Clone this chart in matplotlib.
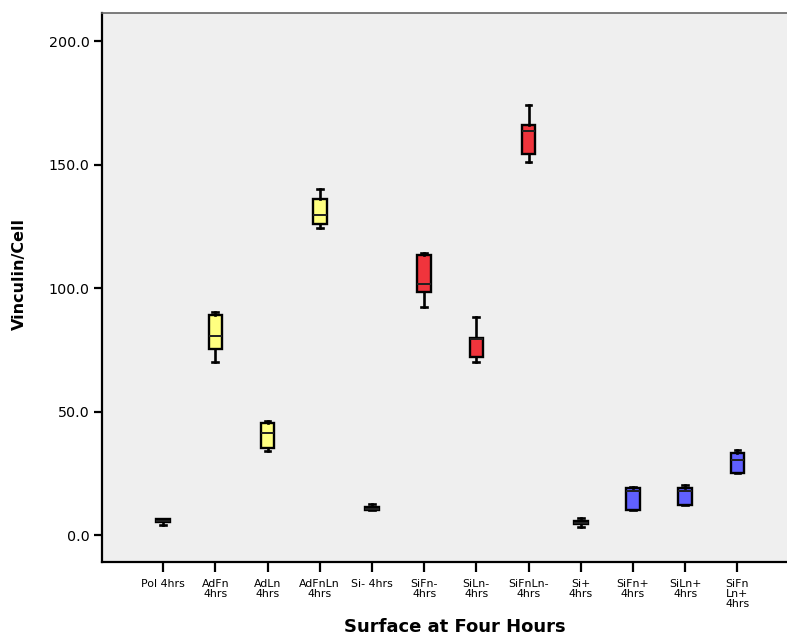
import matplotlib
matplotlib.use("Agg")
import matplotlib.pyplot as plt

plt.rcParams['font.family'] = ['DejaVu Sans']

labels = ["Pol 4hrs", "AdFn\n4hrs", "AdLn\n4hrs", "AdFnLn\n4hrs", "Si- 4hrs", "SiFn-\n4hrs",
          "SiLn-\n4hrs", "SiFnLn-\n4hrs", "Si+\n4hrs", "SiFn+\n4hrs", "SiLn+\n4hrs", "SiFn\nLn+\n4hrs"]

whisker_low = [4.0, 70.0, 34.0, 124.3, 10.0, 92.2, 70.0, 151.3, 3.1, 10.0, 12.0, 25.0]
q1          = [5.3, 75.2, 35.1, 126.2, 10.0, 98.3, 72.2, 154.4, 4.3, 10.0, 12.0, 25.0]
median      = [5.8, 80.7, 41.2, 129.8, 10.6, 101.9, 79.4, 163.8, 5.0, 17.7, 17.9, 30.6]
q3          = [6.4, 89.3, 45.2, 136.2, 11.3, 113.4, 80.0, 166.3, 5.7, 19.2, 19.2, 33.2]
whisker_high = [6.4, 90.3, 46.3, 140.2, 12.5, 114.2, 88.3, 174.4, 7.0, 19.3, 20.2, 34.3]

group_colors = ["#000000", "#FFFF80", "#FFFF80", "#FFFF80", "#000000", "#F0343C",
                "#F0343C", "#F0343C", "#1A1A40", "#6060FF", "#6060FF", "#6060FF"]

fig = plt.figure(figsize=(7.87, 6.36), dpi=100)
ax = fig.add_axes([0.1296, 0.1164, 0.8704, 0.8639])
ax.set_facecolor("#EFEFEF")

stats = []
for i in range(len(labels)):
    stats.append(dict(whislo=whisker_low[i], q1=q1[i], med=median[i], q3=q3[i],
                      whishi=whisker_high[i], fliers=[], label=labels[i]))

positions = list(range(1, len(labels) + 1))
bp = ax.bxp(stats, positions=positions, widths=0.26, capwidths=0.11,
            showfliers=False, patch_artist=True,
            boxprops=dict(edgecolor="black", linewidth=1.7),
            medianprops=dict(color="#202020", linewidth=1.4),
            whiskerprops=dict(color="black", linewidth=1.9),
            capprops=dict(color="black", linewidth=1.9))
for patch, c in zip(bp['boxes'], group_colors):
    patch.set_facecolor(c)

ax.set_xlim(-0.17, 12.95)
ax.set_ylim(-10.9, 211.7)
ax.set_yticks([0, 50, 100, 150, 200])
ax.set_yticklabels(["0.0", "50.0", "100.0", "150.0", "200.0"], fontsize=10.3)
ax.set_xticks(positions)
ax.set_xticklabels(labels, fontsize=7.9, linespacing=1.02, va="top")

ax.tick_params(axis="x", direction="out", length=7, width=1.6, pad=5)
ax.tick_params(axis="y", direction="out", length=6, width=1.6, pad=3)

ax.spines["right"].set_visible(False)
ax.spines["left"].set_linewidth(1.6)
ax.spines["bottom"].set_linewidth(1.6)
ax.spines["top"].set_linewidth(1.2)
ax.spines["top"].set_color("#666666")

ax.set_ylabel("Vinculin/Cell", fontsize=11.5, fontweight="bold", va="center")
ax.yaxis.set_label_coords(-0.12, 0.525)
ax.set_xlabel("Surface at Four Hours", fontsize=13, fontweight="bold", va="center")
ax.xaxis.set_label_coords(0.515, -0.118)

fig.savefig("out.png", dpi=100)
